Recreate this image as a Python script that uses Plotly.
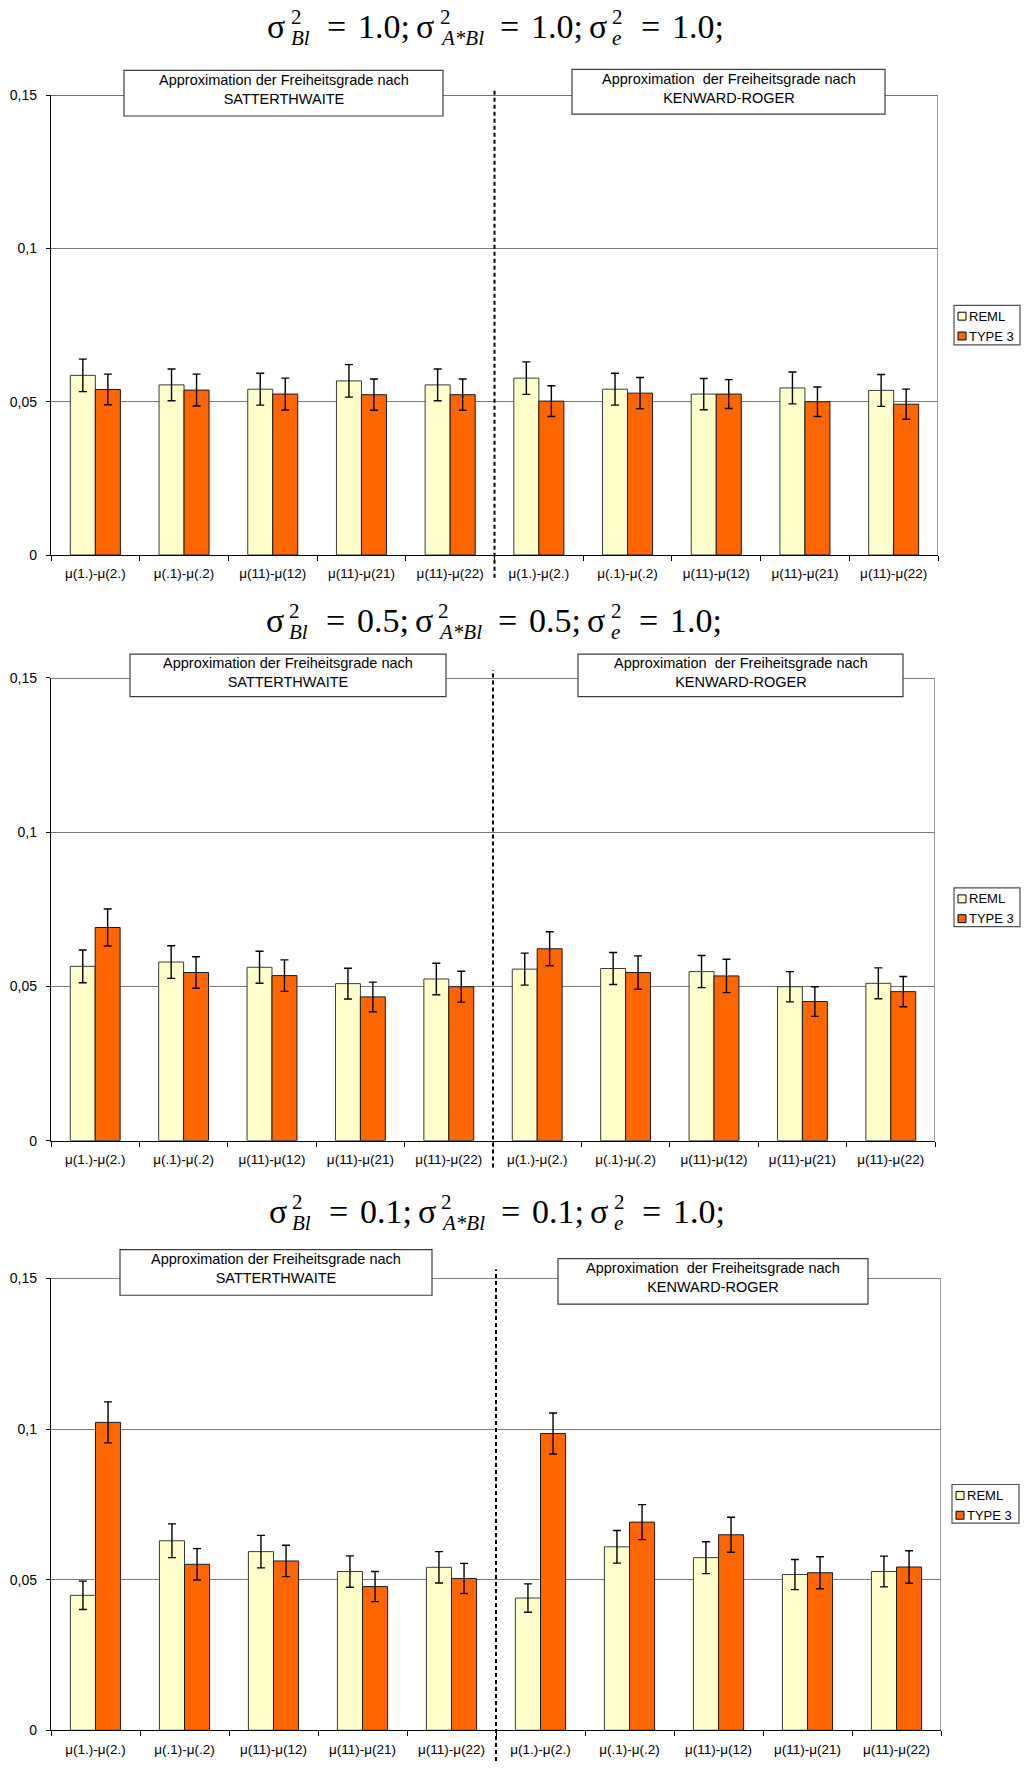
import plotly.graph_objects as go

W, H = 1026, 1769

# ---------------------------------------------------------------- data
contrasts = ["μ(1.)-μ(2.)", "μ(.1)-μ(.2)", "μ(11)-μ(12)", "μ(11)-μ(21)", "μ(11)-μ(22)"]
tick_labels = contrasts + contrasts          # Satterthwaite block, then Kenward-Roger block
x_pos = list(range(len(tick_labels)))
y_tickvals = [0, 0.05, 0.1, 0.15]
y_ticktext = ["0", "0,05", "0,1", "0,15"]
series_names = ["REML", "TYPE 3"]
method_titles = ["Approximation der Freiheitsgrade nach<br>SATTERTHWAITE",
                 "Approximation\u00a0 der Freiheitsgrade nach<br>KENWARD-ROGER"]

# variance components per panel
var_bl = ["1.0", "0.5", "0.1"]
var_abl = ["1.0", "0.5", "0.1"]
var_e = ["1.0", "1.0", "1.0"]

# empirical type-I error rates and error-bar half widths
reml_1 = [0.0586, 0.0555, 0.0541, 0.0568, 0.0555, 0.0577, 0.0541, 0.0525, 0.0545, 0.0537]
type3_1 = [0.0540, 0.0538, 0.0525, 0.0523, 0.0523, 0.0502, 0.0528, 0.0525, 0.0500, 0.0492]
reml_err_1 = [0.0053, 0.0052, 0.0052, 0.0053, 0.0052, 0.0053, 0.0052, 0.0051, 0.0052, 0.0052]
type3_err_1 = [0.0050, 0.0052, 0.0052, 0.0051, 0.0051, 0.0050, 0.0051, 0.0047, 0.0048, 0.0049]

reml_2 = [0.0565, 0.0579, 0.0562, 0.0509, 0.0524, 0.0556, 0.0558, 0.0548, 0.0499, 0.0510]
type3_2 = [0.0691, 0.0545, 0.0535, 0.0466, 0.0499, 0.0622, 0.0545, 0.0534, 0.0451, 0.0483]
reml_err_2 = [0.0053, 0.0053, 0.0052, 0.0050, 0.0051, 0.0052, 0.0052, 0.0052, 0.0049, 0.0050]
type3_err_2 = [0.0060, 0.0051, 0.0051, 0.0048, 0.0050, 0.0055, 0.0054, 0.0054, 0.0048, 0.0049]

reml_3 = [0.0448, 0.0629, 0.0593, 0.0527, 0.0541, 0.0439, 0.0609, 0.0573, 0.0517, 0.0527]
type3_3 = [0.1022, 0.0551, 0.0562, 0.0477, 0.0504, 0.0985, 0.0691, 0.0649, 0.0523, 0.0542]
reml_err_3 = [0.0047, 0.0056, 0.0054, 0.0052, 0.0052, 0.0047, 0.0054, 0.0053, 0.0050, 0.0051]
type3_err_3 = [0.0068, 0.0052, 0.0052, 0.0050, 0.0050, 0.0068, 0.0058, 0.0058, 0.0053, 0.0054]

reml_series = [reml_1, reml_2, reml_3]
type3_series = [type3_1, type3_2, type3_3]
reml_errs = [reml_err_1, reml_err_2, reml_err_3]
type3_errs = [type3_err_1, type3_err_2, type3_err_3]

# ---------------------------------------------------------------- styling / geometry (pixels)
REML_COLOR = "#FFFFCC"
TYPE3_COLOR = "#FF6600"
SANS = "Arial, Liberation Sans, sans-serif"
SERIF = "Times New Roman, Liberation Serif, serif"

panels = [
    dict(left=51, right=938, top=88, bottom=552, title_base=30,
         boxes=[(124, 443, 63, 109), (572, 885, 62, 107)],
         legend=(954, 1020, 300, 340), dash=(82, 575)),
    dict(left=51, right=935, top=676, bottom=1143, title_base=630,
         boxes=[(130, 446, 652, 695), (578, 903, 652, 695)],
         legend=(954, 1020, 888, 927), dash=(668, 1170)),
    dict(left=51, right=941, top=1282, bottom=1738, title_base=1226,
         boxes=[(120, 432, 1253, 1299), (558, 868, 1262, 1308)],
         legend=(952, 1019, 1490, 1529), dash=(1273, 1769)),
]


def px(x):
    return x / W


def py(y):
    return 1 - y / H


fig = go.Figure()
layout = dict(
    width=W, height=H, margin=dict(l=0, r=0, t=0, b=0),
    paper_bgcolor="white", plot_bgcolor="white",
    barmode="group", bargap=0.436, bargroupgap=0.0,
    showlegend=False, font=dict(family=SANS, size=13, color="black"),
)
shapes = []
annotations = []

# approximate advance widths (em) of the serif face used in the headings
SERIF_W = {"σ": 0.6, "=": 0.564, ".": 0.25, ";": 0.278, "B": 0.611, "l": 0.278,
           "A": 0.611, "*": 0.5, "e": 0.444, " ": 0.25}


def text_w(s, fs):
    return sum(SERIF_W.get(c, 0.5) for c in s) * fs


def serif_text(x, baseline, text, fs, italic=False):
    # centre of the glyph box sits ~0.34 em above the baseline
    annotations.append(dict(
        x=px(x), y=py(baseline - 0.3375 * fs), xref="paper", yref="paper",
        xanchor="left", yanchor="middle", showarrow=False, text=text,
        borderpad=0,
        font=dict(family=SERIF, size=fs, color="black",
                  style="italic" if italic else "normal"),
    ))


def add_heading(p, values):
    fs, sfs = 34, 21
    parts = [("Bl", values[0]), ("A*Bl", values[1]), ("e", values[2])]
    segs = []
    total = 0
    for j, (sub, val) in enumerate(parts):
        script_w = max(text_w(sub, sfs), text_w("2", sfs))
        seg = [("σ", 0), ("2", text_w("σ", fs) + 3), (sub, text_w("σ", fs) + 3)]
        eq_x = text_w("σ", fs) + 3 + script_w + 18
        val_x = eq_x + text_w("=", fs) + 12
        seg += [("=", eq_x), (val + ";", val_x)]
        width = val_x + text_w(val + ";", fs) + (6 if j < 2 else 0)
        segs.append((seg, width, total))
        total += width
    centre = (p["left"] + p["right"]) / 2
    start = centre - total / 2
    base = p["title_base"]
    for seg, width, off in segs:
        for k, (t, dx) in enumerate(seg):
            x = start + off + dx
            if k == 1:
                serif_text(x, base - 14, t, sfs)
            elif k == 2:
                serif_text(x, base + 7, t, sfs, italic=True)
            else:
                serif_text(x, base, t, fs)


for i, p in enumerate(panels):
    n = "" if i == 0 else str(i + 1)
    xa, ya = "x" + n, "y" + n
    common = dict(xaxis=xa, yaxis=ya, showlegend=False)
    fig.add_trace(go.Bar(
        x=x_pos, y=reml_series[i], name=series_names[0], offsetgroup="a",
        marker=dict(color=REML_COLOR, line=dict(color="#3a3a3a", width=1)),
        error_y=dict(type="data", array=reml_errs[i], color="black", thickness=1.4, width=4),
        **common))
    fig.add_trace(go.Bar(
        x=x_pos, y=type3_series[i], name=series_names[1], offsetgroup="b",
        marker=dict(color=TYPE3_COLOR, line=dict(color="#1a1a1a", width=1)),
        error_y=dict(type="data", array=type3_errs[i], color="black", thickness=1.4, width=4),
        **common))

    layout["xaxis" + n] = dict(
        domain=[px(p["left"]), px(p["right"])], anchor=ya, range=[-0.5, 9.5],
        tickmode="array", tickvals=x_pos, ticktext=tick_labels, ticks="",
        ticklabelstandoff=6,
        tickfont=dict(family=SANS, size=13.5, color="black"),
        showline=True, linecolor="black", linewidth=1.4,
        showgrid=False, zeroline=False, fixedrange=True,
        minor=dict(tickmode="array", tickvals=[k - 0.5 for k in range(11)],
                   ticks="outside", ticklen=5, tickcolor="black", tickwidth=1.2,
                   showgrid=False),
    )
    layout["yaxis" + n] = dict(
        domain=[py(p["bottom"]), py(p["top"])], anchor=xa, range=[0, 0.15],
        tickmode="array", tickvals=y_tickvals, ticktext=y_ticktext,
        ticks="outside", ticklen=4, tickcolor="black", tickwidth=1.2,
        ticklabelstandoff=6,
        tickfont=dict(family=SANS, size=14, color="black"),
        showline=True, linecolor="black", linewidth=1.4,
        showgrid=True, gridcolor="#7a7a7a", gridwidth=1, zeroline=False, fixedrange=True,
    )

    # frame: top edge black, right edge grey
    shapes.append(dict(type="line", xref=xa, yref=ya, x0=-0.5, x1=9.5, y0=0.15, y1=0.15,
                       line=dict(color="black", width=1.2), layer="above"))
    shapes.append(dict(type="line", xref=xa, yref=ya, x0=9.5, x1=9.5, y0=0, y1=0.15,
                       line=dict(color="#808080", width=1.6), layer="above"))
    # divider between the two approximation methods
    shapes.append(dict(type="line", xref=xa, yref="paper", x0=4.5, x1=4.5,
                       y0=py(p["dash"][1]), y1=py(p["dash"][0]),
                       line=dict(color="black", width=2, dash="4px,3px"), layer="above"))

    # method boxes
    for (bl, br, bt, bb), label in zip(p["boxes"], method_titles):
        shapes.append(dict(type="rect", xref="paper", yref="paper",
                           x0=px(bl), x1=px(br), y0=py(bb), y1=py(bt),
                           fillcolor="white", line=dict(color="#3c3c3c", width=1.2),
                           layer="above"))
        annotations.append(dict(x=px((bl + br) / 2), y=py(bt + 19), xref="paper", yref="paper",
                                xanchor="center", yanchor="middle", showarrow=False,
                                text=label, align="center",
                                font=dict(family=SANS, size=14.5, color="black")))

    # legend
    ll, lr, lt, lb = p["legend"]
    shapes.append(dict(type="rect", xref="paper", yref="paper",
                       x0=px(ll), x1=px(lr), y0=py(lb), y1=py(lt),
                       fillcolor="white", line=dict(color="#505050", width=1.2)))
    for k, (name, col) in enumerate(zip(series_names, [REML_COLOR, TYPE3_COLOR])):
        cy = lt + 11 + 20 * k
        shapes.append(dict(type="rect", xref="paper", yref="paper",
                           x0=px(ll + 4), x1=px(ll + 12), y0=py(cy + 4), y1=py(cy - 4),
                           fillcolor=col, line=dict(color="black", width=1)))
        annotations.append(dict(x=px(ll + 14), y=py(cy), xref="paper", yref="paper",
                                xanchor="left", yanchor="middle", showarrow=False,
                                text=name, borderpad=0,
                                font=dict(family=SANS, size=13, color="black")))

    add_heading(p, (var_bl[i], var_abl[i], var_e[i]))

layout["shapes"] = shapes
layout["annotations"] = annotations
fig.update_layout(**layout)
fig.write_html("out.html")
